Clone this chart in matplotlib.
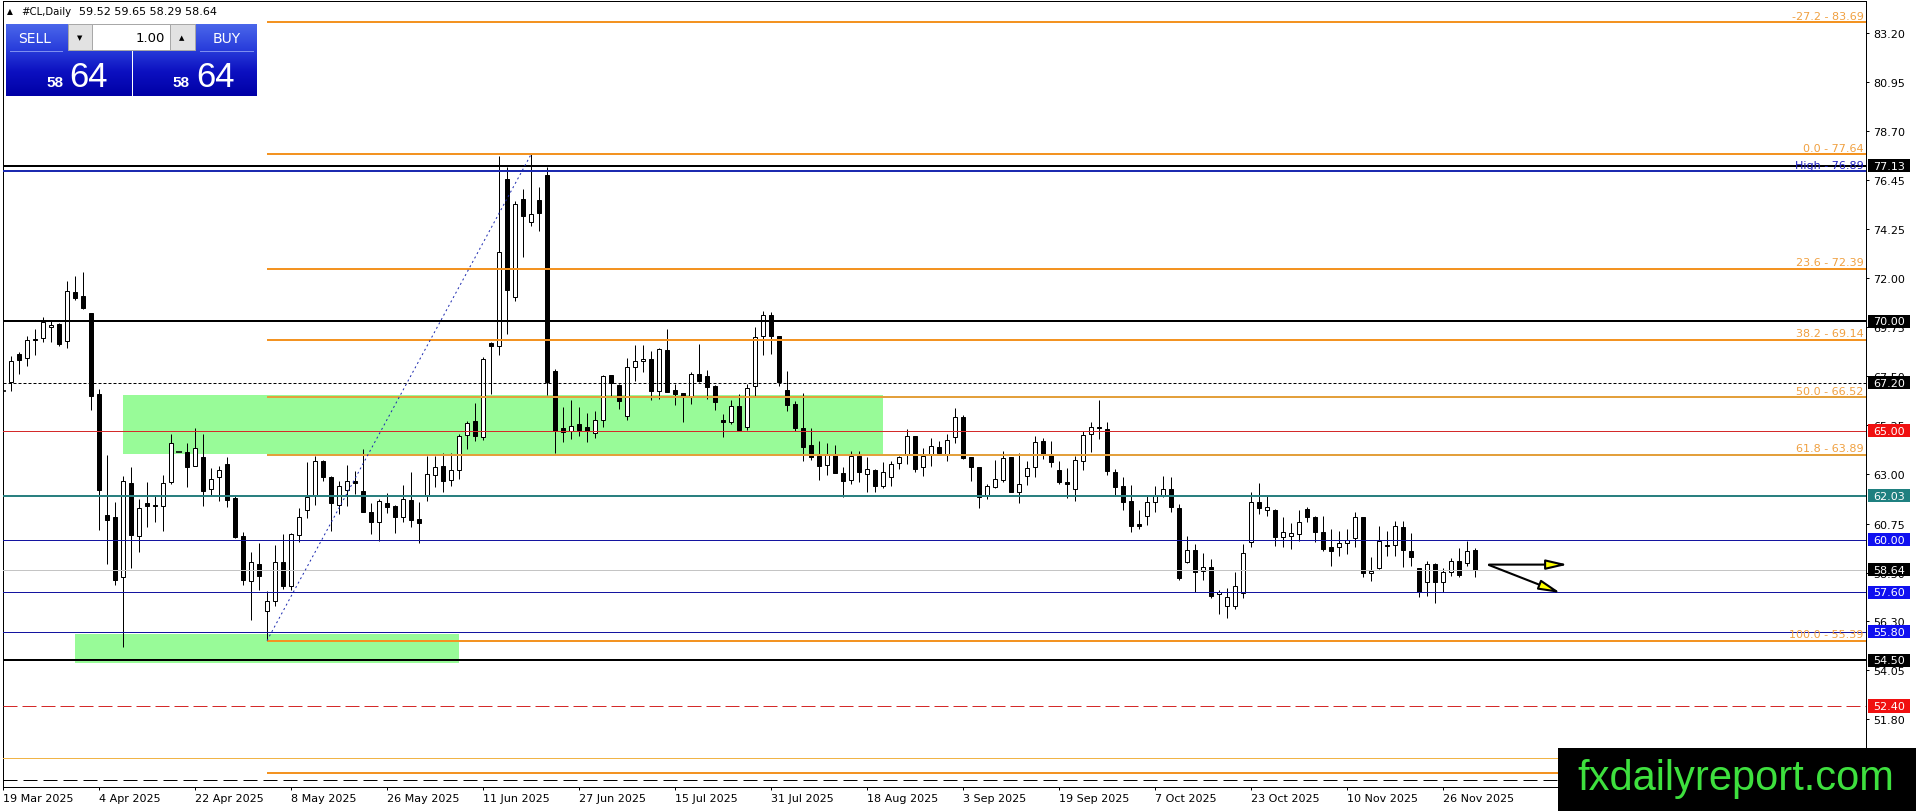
import numpy as np
import matplotlib
matplotlib.use('Agg')
import matplotlib.pyplot as plt
from matplotlib.patches import Rectangle
from matplotlib.colors import LinearSegmentedColormap
from matplotlib import transforms

W, H = 1916, 812

# daily OHLC, one bar per weekday starting 19 Mar 2025
opens = [66.85, 67.24, 68.51, 68.31, 69.20, 69.26, 69.73, 69.88, 69.09, 71.33,
         71.15, 70.39, 66.68, 61.14, 61.05, 58.32, 62.59, 60.16, 61.67, 61.60,
         61.54, 62.64, 64.04, 64.01, 63.40, 63.78, 62.33, 62.86, 63.48, 61.90,
         60.16, 58.13, 58.90, 56.76, 57.22, 58.97, 57.91, 60.22, 61.38, 61.99,
         63.63, 62.86, 61.60, 62.28, 62.68, 62.25, 61.29, 60.80, 61.69, 61.57,
         61.03, 61.84, 60.96, 61.99, 62.97, 63.37, 62.76, 63.22, 64.80, 65.46,
         64.69, 69.01, 68.89, 76.52, 71.10, 75.60, 74.57, 75.56, 76.70, 67.75,
         65.11, 64.97, 65.31, 65.15, 64.88, 65.50, 67.55, 67.09, 65.69, 67.90,
         68.17, 68.28, 66.83, 68.69, 66.86, 66.71, 66.57, 67.59, 67.49, 67.03,
         65.47, 65.38, 66.11, 65.15, 67.03, 69.32, 70.29, 69.32, 66.88, 66.22,
         65.11, 64.34, 63.86, 63.43, 63.93, 63.06, 62.76, 63.86, 63.02, 63.22,
         62.45, 62.86, 63.51, 63.93, 64.74, 63.32, 63.93, 64.24, 63.93, 64.70,
         65.61, 63.78, 63.32, 61.99, 62.41, 62.74, 63.78, 62.21, 62.94, 63.32,
         64.54, 63.93, 63.22, 62.64, 62.33, 63.63, 64.85, 65.18, 65.08, 63.12,
         62.45, 61.80, 60.73, 61.11, 61.72, 62.00, 62.33, 61.45, 58.97, 59.55,
         58.59, 58.75, 57.53, 56.99, 56.99, 57.57, 59.92, 61.72, 61.38, 61.37,
         60.12, 60.16, 60.27, 61.42, 61.03, 60.38, 59.66, 59.66, 59.86, 60.07,
         61.03, 58.49, 58.70, 59.78, 59.77, 60.58, 59.51, 58.70, 58.09, 58.90,
         58.06, 58.55, 59.05, 58.94, 59.52]
highs = [67.60, 68.43, 68.59, 69.32, 69.65, 70.19, 70.00, 69.93, 71.83, 72.06,
         72.25, 70.40, 66.91, 63.89, 61.72, 62.91, 63.32, 61.87, 62.64, 62.03,
         62.97, 64.85, 64.04, 64.44, 65.11, 64.85, 63.28, 63.37, 63.78, 62.00,
         60.38, 59.43, 59.84, 57.68, 59.77, 60.27, 60.30, 61.45, 63.55, 63.86,
         63.65, 62.94, 62.71, 63.43, 63.17, 64.16, 61.69, 61.87, 62.15, 61.60,
         62.51, 63.09, 61.72, 63.86, 63.86, 63.98, 63.98, 64.85, 65.46, 66.27,
         68.36, 69.07, 77.59, 77.05, 75.53, 76.06, 77.64, 76.14, 77.05, 67.82,
         66.07, 66.42, 66.10, 65.81, 65.92, 67.55, 67.56, 67.14, 68.31, 68.92,
         68.92, 68.66, 68.77, 69.65, 67.14, 66.72, 67.70, 68.97, 67.78, 67.09,
         65.76, 66.40, 66.68, 67.14, 69.73, 70.49, 70.42, 69.35, 67.75, 66.37,
         66.71, 65.11, 64.54, 64.44, 64.34, 63.32, 64.08, 64.08, 63.78, 63.25,
         63.55, 63.63, 63.86, 65.08, 64.77, 64.19, 64.65, 64.54, 64.85, 66.02,
         65.72, 63.80, 63.35, 62.56, 63.66, 64.08, 63.80, 63.98, 63.63, 64.74,
         64.65, 64.54, 63.63, 63.28, 63.86, 65.00, 65.38, 66.42, 65.41, 63.25,
         62.86, 62.51, 61.38, 62.03, 62.48, 62.91, 62.86, 61.64, 60.17, 59.81,
         59.40, 59.13, 57.72, 57.78, 58.55, 59.81, 62.18, 62.61, 62.03, 61.40,
         61.03, 60.77, 61.37, 61.52, 61.11, 61.11, 60.50, 60.42, 60.50, 61.26,
         61.05, 59.20, 60.65, 60.42, 60.88, 60.85, 60.32, 58.72, 59.05, 58.94,
         58.70, 59.16, 59.62, 59.97, 59.65]
lows = [66.20, 66.83, 67.59, 67.94, 68.48, 69.04, 69.07, 68.89, 68.80, 71.00,
        70.57, 65.96, 60.47, 58.90, 57.94, 55.11, 58.73, 59.43, 60.58, 60.84,
        60.42, 62.56, 64.04, 62.44, 63.37, 61.54, 62.00, 61.80, 61.49, 60.10,
        57.94, 56.35, 57.72, 55.39, 56.99, 57.75, 57.72, 59.92, 60.99, 61.60,
        62.71, 60.42, 61.19, 61.54, 62.10, 61.26, 60.27, 59.96, 61.22, 60.32,
        60.83, 60.58, 59.84, 61.80, 62.41, 62.18, 62.45, 62.79, 64.16, 64.54,
        64.59, 66.68, 68.46, 69.43, 70.95, 72.93, 74.38, 74.15, 66.63, 63.98,
        64.50, 64.62, 64.77, 64.50, 64.65, 65.18, 66.60, 65.99, 65.50, 67.29,
        67.67, 66.42, 66.45, 66.75, 66.18, 65.41, 66.22, 67.21, 66.45, 65.96,
        64.70, 65.30, 64.97, 65.05, 66.60, 68.46, 68.51, 67.03, 65.92, 65.00,
        63.63, 63.67, 62.76, 62.97, 63.05, 61.95, 62.56, 62.67, 62.18, 62.21,
        62.36, 62.48, 63.25, 63.47, 63.12, 62.94, 63.37, 63.93, 63.63, 64.44,
        63.70, 62.71, 61.45, 61.87, 62.36, 62.67, 62.20, 61.69, 62.51, 62.86,
        63.70, 63.32, 62.56, 61.90, 61.80, 63.22, 64.04, 64.62, 62.97, 62.00,
        61.38, 60.38, 60.50, 60.68, 61.29, 61.95, 61.26, 58.18, 58.96, 57.60,
        58.18, 57.33, 56.61, 56.41, 56.84, 57.33, 59.66, 61.19, 61.11, 59.74,
        59.66, 59.58, 59.97, 60.84, 59.92, 59.51, 58.82, 59.28, 59.36, 59.66,
        58.29, 58.13, 58.67, 59.28, 59.28, 58.75, 58.82, 57.37, 57.42, 57.11,
        57.63, 58.33, 58.29, 58.82, 58.29]
closes = [66.80, 68.21, 68.25, 69.15, 69.14, 69.96, 69.84, 68.97, 71.38, 71.09,
          70.61, 66.60, 62.30, 60.93, 58.18, 62.68, 60.23, 61.45, 61.54, 61.54,
          62.59, 64.42, 64.04, 63.32, 64.19, 62.26, 62.79, 63.20, 61.84, 60.12,
          58.18, 58.97, 58.36, 57.22, 58.97, 57.91, 60.27, 61.03, 61.95, 63.63,
          62.86, 61.69, 62.45, 62.68, 62.59, 61.29, 60.80, 61.80, 61.49, 61.03,
          61.87, 60.93, 60.77, 63.02, 63.32, 62.71, 63.22, 64.74, 65.35, 64.74,
          68.28, 68.86, 73.16, 71.45, 75.37, 74.81, 74.92, 74.96, 67.21, 65.00,
          64.92, 65.20, 65.05, 64.97, 65.50, 67.49, 67.17, 66.37, 67.90, 68.20,
          68.28, 66.83, 68.74, 66.79, 66.68, 66.60, 67.59, 67.29, 66.98, 66.33,
          65.41, 66.15, 65.05, 66.94, 69.27, 70.29, 69.35, 67.21, 66.18, 65.12,
          64.24, 63.78, 63.37, 63.93, 63.06, 62.71, 63.86, 63.12, 63.25, 62.48,
          63.12, 63.47, 63.78, 64.74, 63.25, 63.83, 64.28, 63.98, 64.59, 65.61,
          63.73, 63.32, 61.95, 62.45, 62.79, 63.73, 62.21, 62.56, 63.28, 64.50,
          63.93, 63.58, 62.67, 62.57, 63.66, 64.80, 65.18, 65.12, 63.17, 62.41,
          61.75, 60.65, 60.65, 61.72, 62.06, 62.33, 61.49, 58.24, 59.55, 58.55,
          58.75, 57.42, 57.60, 57.37, 57.88, 59.40, 61.72, 61.45, 61.49, 60.12,
          60.35, 60.32, 60.80, 61.03, 60.38, 59.58, 59.51, 59.86, 60.01, 61.03,
          58.49, 58.59, 59.94, 59.71, 60.65, 59.55, 59.20, 57.63, 58.90, 58.09,
          58.55, 59.05, 58.40, 59.51, 58.64]

date_labels = ['19 Mar 2025', '4 Apr 2025', '22 Apr 2025', '8 May 2025', '26 May 2025',
               '11 Jun 2025', '27 Jun 2025', '15 Jul 2025', '31 Jul 2025', '18 Aug 2025',
               '3 Sep 2025', '19 Sep 2025', '7 Oct 2025', '23 Oct 2025', '10 Nov 2025',
               '26 Nov 2025']
date_index = [0, 12, 24, 36, 48, 60, 72, 84, 96, 108, 120, 132, 144, 156, 168, 180]

price_ticks = [83.20, 80.95, 78.70, 76.45, 74.25, 72.00, 69.75, 67.50, 65.25, 63.00,
               60.75, 58.50, 56.30, 54.05, 51.80]

# fibonacci retracement from the 55.39 low to the 77.64 high
fib_start, fib_end = 33, 66
fib_levels = ['-27.2', '0.0', '23.6', '38.2', '50.0', '61.8', '100.0', '127.2']
fib_prices = [83.69, 77.64, 72.39, 69.14, 66.52, 63.89, 55.39, 49.34]
fib_high_label = 76.89

# horizontal levels
level_prices = [77.13, 76.89, 70.00, 67.20, 65.00, 62.03, 60.00, 58.64, 57.60, 55.80,
                54.50, 52.40, 50.00, 49.00]
label_prices = [77.13, 70.00, 67.20, 65.00, 62.03, 60.00, 58.64, 57.60, 55.80, 54.50, 52.40]

# zones (start bar, end bar, low, high)
zone_upper = (15, 110, 63.93, 66.62)
zone_lower = (9, 57, 54.35, 55.69)

# arrows (start bar, start price, end bar, end price)
arrow_flat = (185.75, 58.87, 195.6, 58.87)
arrow_down = (185.75, 58.85, 194.7, 57.57)

bid, ask = '58', '64'

PX = 0.72  # one pixel in points at dpi 100

fig = plt.figure(figsize=(W / 100, H / 100), dpi=100)
fig.patch.set_facecolor('white')
ax = fig.add_axes([2.7 / W, (H - 788.3) / H, 1863.3 / W, 786.6 / H])
ax.set_xlim(-0.0375, 232.875)
ax.set_ylim(48.678, 84.678)

for s in ax.spines.values():
    s.set_linewidth(PX)
    s.set_color('black')

# zones behind candles
for (x0, x1, lo, hi) in (zone_upper, zone_lower):
    ax.add_patch(Rectangle((x0, lo), x1 - x0, hi - lo, facecolor='#98fb98',
                           edgecolor='none', zorder=0.5))

# candles
n = len(opens)
x = np.arange(n)
o = np.array(opens)
c = np.array(closes)
ax.vlines(x, lows, highs, color='black', lw=PX, zorder=2)
for i in range(n):
    lo_b, hi_b = min(o[i], c[i]), max(o[i], c[i])
    if hi_b - lo_b < 0.06:
        ax.hlines((o[i] + c[i]) / 2, i - 0.32, i + 0.32, color='black', lw=PX * 1.6, zorder=3)
        continue
    fc = 'white' if c[i] > o[i] else 'black'
    ax.add_patch(Rectangle((i - 0.27, lo_b), 0.54, hi_b - lo_b, facecolor=fc,
                           edgecolor='black', lw=PX, zorder=3))

# horizontal levels (full width)
level_styles = [
    ('black', 2, '-'), ('#1c2ab0', 2, '-'), ('black', 2, '-'), ('black', 1, (0, (3, 2))),
    ('#d42a2a', 1, '-'), ('#2a8080', 2, '-'), ('#1414a0', 1, '-'), ('#c4c4c4', 1, '-'),
    ('#1414a0', 1, '-'), ('#1414a0', 1, '-'), ('black', 2, '-'), ('#d42a2a', 1, (0, (14, 5))),
    ('#f0b448', 1, '-'), ('black', 1, (0, (14, 6))),
]
for p, (col, w, ls) in zip(level_prices, level_styles):
    ax.axhline(p, color=col, lw=w * PX, linestyle=ls, zorder=4)

# fibonacci lines and labels
x_right = ax.get_xlim()[1]
lab_tr = transforms.blended_transform_factory(ax.transAxes, ax.transData)
for lvl, p in zip(fib_levels, fib_prices):
    col = '#e3a03c' if lvl in ('50.0', '61.8') else '#f39322'
    ax.hlines(p, fib_start, x_right, color=col, lw=2 * PX, zorder=4)
    ax.text(1 - 2.5 / 1863, p + 0.08, f'{lvl} - {p:.2f}', transform=lab_tr,
            ha='right', va='bottom', fontsize=8, color='#f0a040', zorder=6)
ax.text(1 - 2.5 / 1863, fib_high_label + 0.02, f'High - {fib_high_label:.2f}', transform=lab_tr,
        ha='right', va='bottom', fontsize=8, color='#2020c0', zorder=6)

# fib anchor line
ax.plot([fib_start, fib_end], [fib_prices[6], fib_prices[1]], color='#1c2ab0',
        lw=PX, linestyle=(0, (2, 3)), zorder=5)

# arrows
for (x0, y0, x1, y1) in (arrow_flat, arrow_down):
    ax.annotate('', xy=(x1, y1), xytext=(x0, y0),
                arrowprops=dict(arrowstyle='-|>,head_length=1.3,head_width=0.3',
                                fc='#ffff00', ec='black', lw=1.5, mutation_scale=10,
                                shrinkA=0, shrinkB=0), zorder=7)

# axes ticks
ax.yaxis.tick_right()
ax.set_yticks(price_ticks)
ax.set_yticklabels([f'{t:.2f}' for t in price_ticks])
ax.tick_params(axis='y', direction='out', length=3 * PX, width=PX, pad=3, labelsize=8)
ax.set_xticks(date_index)
ax.set_xticklabels(date_labels, ha='left')
ax.tick_params(axis='x', direction='out', length=3 * PX, width=PX, pad=2, labelsize=8)


def fx(px):
    return px / W


def fy(py):
    return 1 - py / H


# price label boxes on the right axis
box_tr = transforms.blended_transform_factory(fig.transFigure, ax.transData)
box_colors = ['black', 'black', 'black', '#f01010', '#1f8080', '#1010f0', 'black',
              '#1010f0', '#1010f0', 'black', '#f01010']
for p, col in zip(label_prices, box_colors):
    fig.add_artist(Rectangle((fx(1868), p - 0.30), fx(42), 0.60, transform=box_tr,
                             facecolor=col, edgecolor='none', zorder=10))
    fig.text(fx(1889), p, f'{p:.2f}', transform=box_tr, ha='center', va='center',
             fontsize=8, color='white', zorder=11)

# header line
fig.text(fx(7), fy(12), '\u25b2', fontsize=5.5, ha='left', va='center')
fig.text(fx(21), fy(12), '#CL,Daily', fontsize=7.3, ha='left', va='center')
fig.text(fx(79), fy(12), f'{opens[-1]:.2f} {highs[-1]:.2f} {lows[-1]:.2f} {closes[-1]:.2f}',
         fontsize=8, ha='left', va='center')

# one-click trading panel
grad = LinearSegmentedColormap.from_list('mt', ['#4a66ea', '#2a3fdc', '#0c10c0', '#0000a6'])
for (x0, x1) in ((6, 131), (133, 257)):
    pax = fig.add_axes([fx(x0), fy(97), fx(x1 - x0), (97 - 25) / H])
    pax.imshow(np.linspace(0, 1, 64).reshape(-1, 1), aspect='auto', cmap=grad,
               extent=(0, 1, 0, 1))
    pax.set_axis_off()
for (x0, x1, col) in ((68, 92, '#e2e2e2'), (92, 170, 'white'), (170, 195, '#e2e2e2')):
    fig.add_artist(Rectangle((fx(x0), fy(51)), fx(x1 - x0), 26 / H, transform=fig.transFigure,
                             facecolor=col, edgecolor='#a8a8a8', lw=PX, zorder=12))
for (x0, x1) in ((10, 62), (200, 253)):
    fig.add_artist(plt.Line2D([fx(x0), fx(x1)], [fy(52), fy(52)], transform=fig.transFigure,
                              color='#7d8ef0', lw=PX, zorder=12))
fig.text(fx(80), fy(38), '\u25bc', fontsize=5, ha='center', va='center', zorder=13)
fig.text(fx(182), fy(38), '\u25b2', fontsize=5, ha='center', va='center', zorder=13)
fig.text(fx(165), fy(38), '1.00', fontsize=9.5, ha='right', va='center', zorder=13)
fig.text(fx(35), fy(39), 'SELL', fontsize=10, color='white', ha='center', va='center', zorder=13)
fig.text(fx(227), fy(39), 'BUY', fontsize=10, color='white', ha='center', va='center', zorder=13)
for (xs, xb) in ((46, 69), (172, 196)):
    fig.text(fx(xs), fy(87), bid, fontsize=11, fontweight='bold', family='Liberation Sans',
             color='white', ha='left', va='baseline', zorder=13)
    fig.text(fx(xb), fy(87), ask, fontsize=25, family='Liberation Sans',
             color='white', ha='left', va='baseline', zorder=13)

# watermark
fig.add_artist(Rectangle((fx(1558), 0), fx(W - 1558), (H - 749) / H, transform=fig.transFigure,
                         facecolor='black', edgecolor='none', zorder=20))
fig.text(fx(1736), fy(790), 'fxdailyreport.com', fontsize=30, family='Liberation Sans',
         color='#3ee03e', ha='center', va='baseline', zorder=21)

fig.savefig('out.png', dpi=100)
